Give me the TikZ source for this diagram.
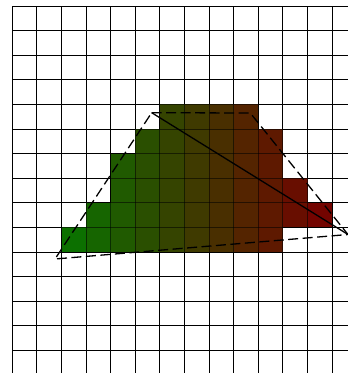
\documentclass[tikz,border=0pt]{standalone}
\begin{document}
\begin{tikzpicture}[x=1pt,y=-1pt,
  gridline/.style={draw=black,line width=1pt},
  hullline/.style={draw=black,line width=1.3pt,dash pattern=on 10pt off 4.5pt},
  mainline/.style={draw=black,line width=1.3pt}]
\useasboundingbox (0,0) rectangle (348,373);
\def\gx{12.3}\def\gy{6}\def\s{24.6}
\begin{scope}
\clip (0,0) rectangle (348,373);
% grid
\foreach \i in {0,...,14}{
  \draw[gridline] ({\gx+\i*\s},\gy) -- ({\gx+\i*\s},380);
}
\foreach \j in {0,...,15}{
  \draw[gridline] (\gx,{\gy+\j*\s}) -- (360,{\gy+\j*\s});
}
% cells
\foreach \r/\a/\b in {4/6/9,5/5/10,6/4/10,7/4/11,8/3/12,9/2/10}{
  \foreach \c in {\a,...,\b}{
    \pgfmathtruncatemacro{\R}{12+103*(\c-2)/10}
    \pgfmathtruncatemacro{\G}{112-108*(\c-2)/10}
    \definecolor{cellcol}{RGB}{\R,\G,0}
    \fill[cellcol] ({\gx+\c*\s},{\gy+\r*\s}) rectangle ({\gx+(\c+1)*\s},{\gy+(\r+1)*\s});
  }
}
% grid over cells
\foreach \i in {2,...,13}{
  \draw[gridline,opacity=0.55] ({\gx+\i*\s},{\gy+4*\s}) -- ({\gx+\i*\s},{\gy+10*\s});
}
\foreach \j in {4,...,10}{
  \draw[gridline,opacity=0.55] ({\gx+2*\s},{\gy+\j*\s}) -- ({\gx+13*\s},{\gy+\j*\s});
}
% hull
\coordinate (A) at (151.7,112.7);
\coordinate (B) at (250.3,113);
\coordinate (C) at (348,234.5);
\coordinate (D) at (55,259);
\draw[hullline] (A) -- (B) -- (C) -- (D) -- cycle;
\draw[mainline] (A) -- (C);
\end{scope}
\end{tikzpicture}
\end{document}
